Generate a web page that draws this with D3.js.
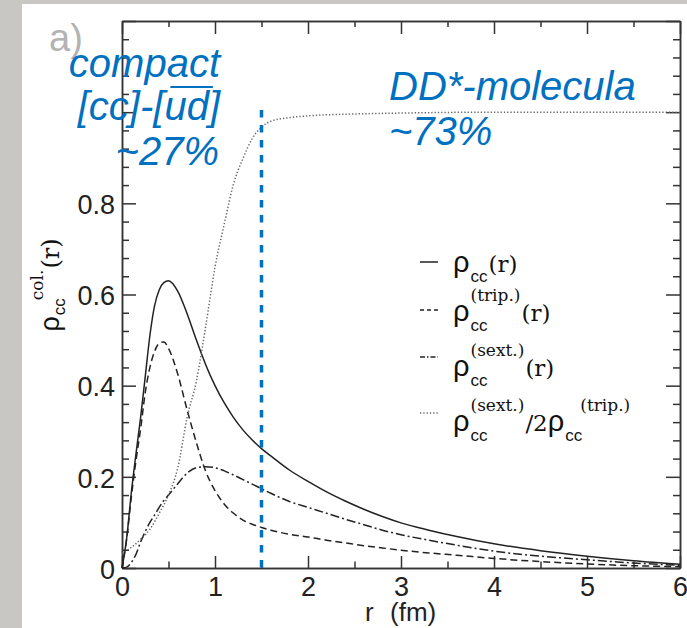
<!DOCTYPE html>
<html>
<head>
<meta charset="utf-8">
<script src="https://cdn.jsdelivr.net/npm/d3@7/dist/d3.min.js"></script>
<style>
  body { margin: 0; overflow: hidden; background: #fff; }
  .rho { font: 29px "Liberation Sans", Arial, sans-serif; fill: #111; }
  .sub { font: 17px "Liberation Sans", Arial, sans-serif; fill: #111; }
  .sup { font: 17px "DejaVu Serif", serif; fill: #111; }
  .serif { font: 23px "DejaVu Serif", serif; fill: #111; }
  .note { font: italic 40px "Liberation Sans", Arial, sans-serif; fill: #0070c0; }
</style>
</head>
<body>
<svg id="chart" width="687" height="628"></svg>
<script>
// radius grid (fm) shared by the three densities
const radius = [0, 0.05, 0.1, 0.15, 0.2, 0.25, 0.3, 0.35, 0.4, 0.45, 0.5, 0.6, 0.7, 0.8, 0.9,
  1.0, 1.1, 1.2, 1.3, 1.4, 1.5, 1.6, 1.8, 2.0, 2.2, 2.4, 2.6, 2.8, 3.0, 3.3, 3.6, 4.0, 4.5, 5.0, 5.5, 6.0];
const rhoTotal = [0, 0.065, 0.165, 0.25, 0.33, 0.42, 0.51, 0.575, 0.61, 0.626, 0.63, 0.607, 0.558, 0.5, 0.446,
  0.4, 0.362, 0.33, 0.303, 0.281, 0.262, 0.246, 0.215, 0.19, 0.167, 0.147, 0.129, 0.113, 0.099, 0.083, 0.069, 0.053, 0.038, 0.026, 0.016, 0.008];
const rhoTrip = [0, 0.063, 0.155, 0.235, 0.305, 0.385, 0.44, 0.475, 0.493, 0.496, 0.482, 0.425, 0.347, 0.275, 0.212,
  0.17, 0.14, 0.12, 0.105, 0.096, 0.089, 0.083, 0.074, 0.068, 0.061, 0.055, 0.049, 0.044, 0.039, 0.033, 0.028, 0.021, 0.014, 0.009, 0.005, 0.003];
const rhoSext = [0, 0.002, 0.012, 0.03, 0.057, 0.08, 0.1, 0.116, 0.133, 0.148, 0.16, 0.185, 0.208, 0.22, 0.222,
  0.22, 0.213, 0.204, 0.194, 0.184, 0.174, 0.164, 0.146, 0.133, 0.12, 0.107, 0.095, 0.083, 0.073, 0.061, 0.05, 0.037, 0.026, 0.018, 0.011, 0.006];

// ratio sext / 2 trip
const ratioR = [0, 0.1, 0.2, 0.3, 0.4, 0.5, 0.6, 0.7, 0.8, 0.9, 1.0, 1.1, 1.2, 1.3, 1.4, 1.5, 1.6, 1.8, 2.0, 2.5, 3.0, 4.0, 5.0, 6.0];
const ratio = [0.032, 0.045, 0.063, 0.085, 0.12, 0.16, 0.22, 0.33, 0.41, 0.53, 0.66, 0.755, 0.843, 0.898, 0.942, 0.967, 0.98, 0.988, 0.992, 0.996, 0.998, 1.0, 1.0, 1.0];

const xTicks = [0, 1, 2, 3, 4, 5, 6];
const xMinor = [0.5, 1.5, 2.5, 3.5, 4.5, 5.5];
const yMajor = [0, 0.2, 0.4, 0.6, 0.8, 1.0, 1.2];
const yLabels = [0, 0.2, 0.4, 0.6, 0.8];
const cutR = 1.5;
const cutTop = 1.005;

const svg = d3.select('#chart');

svg.append('rect').attr('width', 687).attr('height', 628).attr('fill', '#c9c7c3');
svg.append('rect').attr('x', 22).attr('y', 4).attr('width', 665).attr('height', 624).attr('fill', '#fff');

const x = d3.scaleLinear().domain([0, 6]).range([122, 680]);
const y = d3.scaleLinear().domain([0, 1.2]).range([568, 21]);

// panel label, sits behind everything
svg.append('text').attr('x', 49).attr('y', 51)
  .style('font', '38px "Liberation Sans", Arial, sans-serif')
  .attr('fill', '#b3b3b3').text('a)');

function styleAxis(g) {
  g.attr('font-size', 27).attr('font-family', '"Liberation Sans", Arial, sans-serif');
  g.selectAll('path, line').attr('stroke', '#333').attr('stroke-width', 1.5);
  g.selectAll('text').attr('fill', '#222');
}

const yMinor = d3.range(1, 30).filter(i => i % 5 !== 0).map(i => i * 0.04);
const yFmt = d => (d === 0 ? '0' : d.toFixed(1));

// bottom
svg.append('g').attr('transform', `translate(0,${y(0)})`)
  .call(d3.axisBottom(x).tickValues(xTicks).tickSizeInner(-12).tickSizeOuter(0).tickPadding(9).tickFormat(d3.format('d')))
  .call(styleAxis);
svg.append('g').attr('transform', `translate(0,${y(0)})`)
  .call(d3.axisBottom(x).tickValues(xMinor).tickSizeInner(-6.5).tickSizeOuter(0).tickFormat(''))
  .call(styleAxis);
// top
svg.append('g').attr('transform', `translate(0,${y(1.2)})`)
  .call(d3.axisTop(x).tickValues(xTicks).tickSizeInner(-13).tickSizeOuter(0).tickFormat(''))
  .call(styleAxis);
svg.append('g').attr('transform', `translate(0,${y(1.2)})`)
  .call(d3.axisTop(x).tickValues(xMinor).tickSizeInner(-6).tickSizeOuter(0).tickFormat(''))
  .call(styleAxis);
// left
svg.append('g').attr('transform', `translate(${x(0)},0)`)
  .call(d3.axisLeft(y).tickValues(yMajor).tickSizeInner(-14).tickSizeOuter(0).tickPadding(7)
    .tickFormat(d => (yLabels.includes(d) ? yFmt(d) : '')))
  .call(styleAxis)
  .call(g => g.selectAll('text').attr('dy', '0.38em'));
svg.append('g').attr('transform', `translate(${x(0)},0)`)
  .call(d3.axisLeft(y).tickValues(yMinor).tickSizeInner(-7).tickSizeOuter(0).tickFormat(''))
  .call(styleAxis);
// right
svg.append('g').attr('transform', `translate(${x(6)},0)`)
  .call(d3.axisRight(y).tickValues(yMajor).tickSizeInner(-14).tickSizeOuter(0).tickFormat(''))
  .call(styleAxis);
svg.append('g').attr('transform', `translate(${x(6)},0)`)
  .call(d3.axisRight(y).tickValues(yMinor).tickSizeInner(-7).tickSizeOuter(0).tickFormat(''))
  .call(styleAxis);

// axis titles
svg.append('text').attr('y', 621)
  .style('font', '26px "Liberation Sans", Arial, sans-serif').attr('fill', '#222')
  .call(t => t.append('tspan').attr('x', 365).text('r'))
  .call(t => t.append('tspan').attr('x', 390).text('(fm)'));

// rho_cc with sub/superscript; returns end x
function rhoLabel(g, x0, base, opt) {
  let rho = g.append('text').attr('class', 'rho').attr('x', x0).attr('y', base)
    .style('font-size', opt.size + 'px').text('ρ');
  let x1 = x0 + rho.node().getComputedTextLength() + 1;
  let sub = g.append('text').attr('class', 'sub').attr('x', x1).attr('y', base + opt.subDy).text('cc');
  let x2 = x1 + sub.node().getComputedTextLength();
  if (opt.sup) {
    let sx = opt.stack ? x1 : x2 - 2;
    let s = g.append('text').attr('class', 'sup').attr('x', sx).attr('y', base + opt.supDy).text(opt.sup);
    x2 = Math.max(x2, sx + s.node().getComputedTextLength());
  }
  if (opt.tail) {
    let t = g.append('text').attr('class', 'serif').attr('x', x2 + 1).attr('y', base)
      .style('font-size', opt.tailSize + 'px').text(opt.tail);
    x2 = x2 + 1 + t.node().getComputedTextLength();
  }
  return x2;
}

const yTitle = svg.append('g').attr('transform', 'translate(59,285) rotate(-90)');
const yInner = yTitle.append('g');
let w = rhoLabel(yInner, 0, 0, { size: 27, subDy: 6, sup: 'col.', supDy: -16, stack: false, tail: '(r)', tailSize: 24 });
yInner.attr('transform', `translate(${-w / 2},0)`);

// curves
const line = d3.line().x(d => x(d[0])).y(d => y(d[1])).curve(d3.curveMonotoneX);

const series = [
  { values: rhoTotal, dash: null },
  { values: rhoTrip, dash: '7,4' },
  { values: rhoSext, dash: '9,3,2,3' }
];
svg.append('g').selectAll('path').data(series).join('path')
  .attr('d', s => line(radius.map((r, i) => [r, s.values[i]])))
  .attr('fill', 'none').attr('stroke', '#222').attr('stroke-width', 1.5)
  .attr('stroke-dasharray', s => s.dash);

svg.append('path')
  .attr('d', line(ratioR.map((r, i) => [r, ratio[i]])))
  .attr('fill', 'none').attr('stroke', '#666').attr('stroke-width', 1.5)
  .attr('stroke-dasharray', '1.3,2');

// compact / molecular boundary
svg.append('line')
  .attr('x1', x(cutR)).attr('x2', x(cutR)).attr('y1', y(cutTop)).attr('y2', y(0))
  .attr('stroke', '#0070c0').attr('stroke-width', 3.5).attr('stroke-dasharray', '7.5,7.5');

// legend
const lg = svg.append('g');
const legendRows = [
  { base: 272, ly: 262, dash: null, stroke: '#222' },
  { base: 321, ly: 310, dash: '4,3', stroke: '#222' },
  { base: 376, ly: 357, dash: '5,2,1.5,2', stroke: '#222' },
  { base: 431, ly: 413, dash: '1.3,2', stroke: '#666' }
];
legendRows.forEach(r => {
  lg.append('line').attr('x1', 420).attr('x2', 438).attr('y1', r.ly).attr('y2', r.ly)
    .attr('stroke', r.stroke).attr('stroke-width', 1.5).attr('stroke-dasharray', r.dash);
});
const lOpt = { size: 29, subDy: 10, supDy: -20, stack: true, tailSize: 23 };
rhoLabel(lg, 453, 272, { ...lOpt, tail: '(r)' });
rhoLabel(lg, 453, 321, { ...lOpt, sup: '(trip.)', tail: '(r)' });
rhoLabel(lg, 453, 376, { ...lOpt, sup: '(sext.)', tail: '(r)' });
let e = rhoLabel(lg, 453, 431, { ...lOpt, sup: '(sext.)', tail: '/2' });
rhoLabel(lg, e, 431, { ...lOpt, sup: '(trip.)', stack: false });

// annotations
const note = svg.append('g');
note.append('text').attr('class', 'note').attr('text-anchor', 'end').attr('x', 220).attr('y', 77).text('compact');
let mid = note.append('text').attr('class', 'note').attr('text-anchor', 'end').attr('x', 220).attr('y', 120).text('[cc]-[ud]');
note.append('text').attr('class', 'note').attr('text-anchor', 'end').attr('x', 219).attr('y', 165).text('~27%');
let u = mid.node().getExtentOfChar(6), dd = mid.node().getExtentOfChar(7);
note.append('line').attr('x1', u.x + 6).attr('x2', dd.x + dd.width + 4).attr('y1', 87).attr('y2', 87)
  .attr('stroke', '#0070c0').attr('stroke-width', 2.2);
note.append('text').attr('class', 'note').attr('x', 389).attr('y', 100).text('DD*-molecula');
note.append('text').attr('class', 'note').attr('x', 389).attr('y', 145).text('~73%');
</script>
</body>
</html>
